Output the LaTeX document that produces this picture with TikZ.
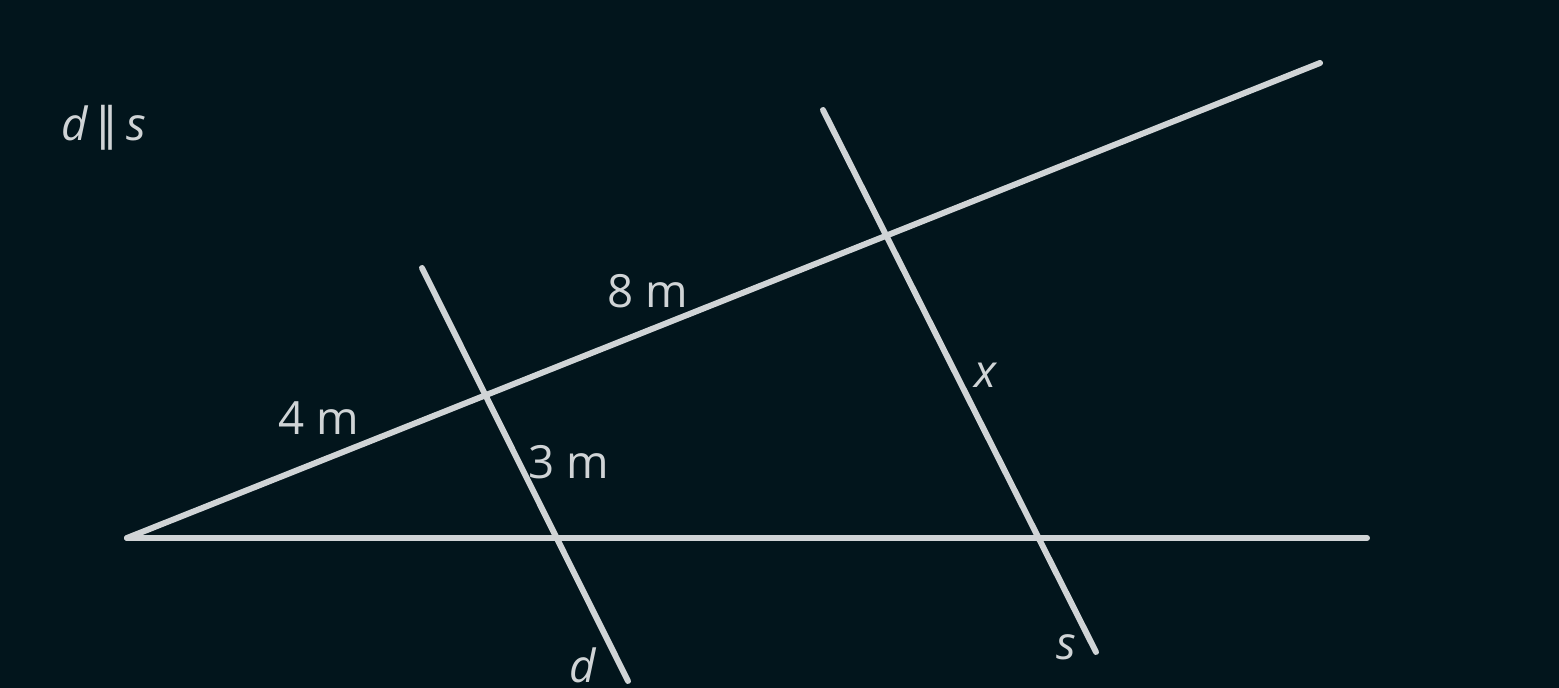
\documentclass[tikz,border=0pt]{standalone}
\usepackage{fontspec}
\setmainfont{Open Sans}
\newfontfamily\symfont{DejaVu Sans}
\definecolor{bg}{RGB}{2,21,28}
\definecolor{ink}{RGB}{208,212,214}
\tikzset{
  geo/.style={draw=ink, line width=1.7pt, line cap=round, line join=round},
  lbl/.style={text=ink, font=\fontsize{13pt}{15pt}\selectfont, inner sep=0pt},
}
\begin{document}
\begin{tikzpicture}[x=0.01cm,y=-0.01cm]
\fill[bg] (0,0) rectangle (1559,688);
\useasboundingbox (0,0) rectangle (1559,688);
\coordinate (A) at (127,538);
\coordinate (T) at (1320,63);
\coordinate (H) at (1367,538);
\coordinate (d1) at (422,268);
\coordinate (d2) at (628,681);
\coordinate (s1) at (823,110);
\coordinate (s2) at (1096,652);
\draw[geo] (A) -- (T);
\draw[geo] (A) -- (H);
\draw[geo] (d1) -- (d2);
\draw[geo] (s1) -- (s2);
\node[lbl] (par) at (104,128) {\itshape d\,{\upshape\symfont ∥}\,s};
\node[lbl] (l8) at (648,291) {8 m};
\node[lbl] (l4) at (319,418) {4 m};
\node[lbl] (l3) at (569,462) {3 m};
\node[lbl] (lx) at (985,375) {\itshape x};
\node[lbl] (ld) at (583,665) {\itshape d};
\node[lbl] (ls) at (1066,647) {\itshape s};
\end{tikzpicture}
\end{document}
